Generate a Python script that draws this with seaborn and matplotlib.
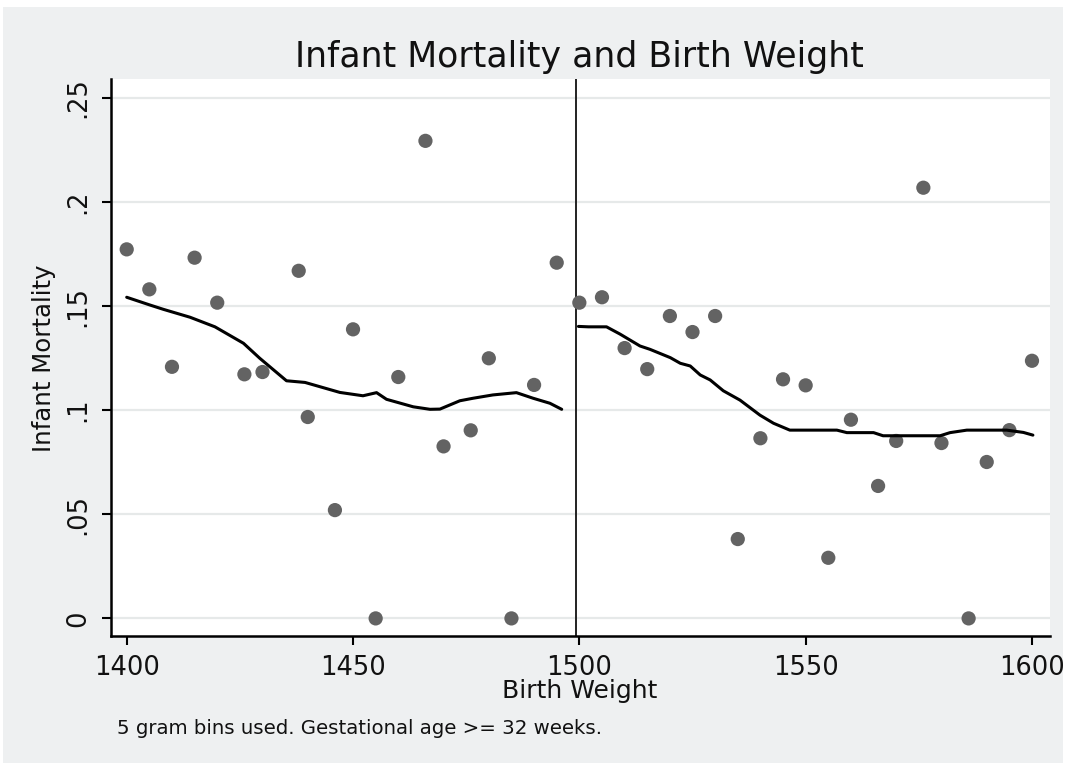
import matplotlib
matplotlib.use("Agg")
import matplotlib.pyplot as plt
import seaborn as sns
import pandas as pd
from matplotlib.patches import Rectangle

# ---- data ----
left_bw = [1400, 1405, 1410, 1415, 1420, 1426, 1430, 1438, 1440, 1446,
           1450, 1455, 1460, 1466, 1470, 1476, 1480, 1485, 1490, 1495]
left_mort = [0.1772, 0.1580, 0.1208, 0.1732, 0.1516, 0.1172, 0.1183, 0.1669, 0.0967, 0.0520,
             0.1388, 0.0, 0.1159, 0.2293, 0.0826, 0.0903, 0.1249, 0.0, 0.1121, 0.1708]

right_bw = [1500, 1505, 1510, 1515, 1520, 1525, 1530, 1535, 1540, 1545,
            1550, 1555, 1560, 1566, 1570, 1576, 1580, 1586, 1590, 1595, 1600]
right_mort = [0.1516, 0.1542, 0.1298, 0.1197, 0.1452, 0.1375, 0.1452, 0.0381, 0.0865, 0.1148,
              0.1119, 0.0291, 0.0954, 0.0636, 0.0852, 0.2068, 0.0842, 0.0, 0.0751, 0.0904, 0.1237]

left_fit_bw = [1400, 1405.1, 1408.1, 1414.0, 1419.5, 1425.8, 1429.4, 1435.3, 1439.4, 1447.1,
               1452.2, 1455.2, 1457.4, 1463.3, 1467.0, 1469.2, 1473.6, 1476.5, 1480.9, 1486.1,
               1489.8, 1493.5, 1496.1]
left_fit = [0.1542, 0.1505, 0.1484, 0.1446, 0.1400, 0.1321, 0.1249, 0.1141, 0.1133, 0.1085,
            0.1069, 0.1084, 0.1052, 0.1016, 0.1004, 0.1005, 0.1045, 0.1057, 0.1073, 0.1084,
            0.1057, 0.1033, 0.1004]

right_fit_bw = [1499.8, 1502.0, 1506.0, 1509.0, 1513.4, 1515.6, 1520.1, 1522.3, 1524.5, 1526.7,
                1528.9, 1531.8, 1535.5, 1539.9, 1542.9, 1546.5, 1556.9, 1559.1, 1565.0, 1567.1,
                1579.7, 1581.9, 1585.6, 1594.4, 1598.1, 1600.2]
right_fit = [0.1402, 0.1400, 0.1400, 0.1365, 0.1308, 0.1292, 0.1252, 0.1225, 0.1212, 0.1169,
             0.1145, 0.1093, 0.1048, 0.0976, 0.0937, 0.0904, 0.0904, 0.0892, 0.0892, 0.0877,
             0.0877, 0.0892, 0.0904, 0.0904, 0.0893, 0.0880]

cutoff = 1499.2
x_ticks = [1400, 1450, 1500, 1550, 1600]
x_ticklabels = ["1400", "1450", "1500", "1550", "1600"]
y_ticks = [0, 0.05, 0.1, 0.15, 0.2, 0.25]
y_ticklabels = ["0", ".05", ".1", ".15", ".2", ".25"]

title = "Infant Mortality and Birth Weight"
xlabel = "Birth Weight"
ylabel = "Infant Mortality"
note = "5 gram bins used. Gestational age >= 32 weeks."

# ---- style ----
sns.set_style("white")
plt.rcParams["font.family"] = ["DejaVu Sans"]
TXT = "#111111"

pts = pd.DataFrame({"bw": left_bw + right_bw, "mort": left_mort + right_mort})
fitL = pd.DataFrame({"bw": left_fit_bw, "mort": left_fit})
fitR = pd.DataFrame({"bw": right_fit_bw, "mort": right_fit})

fig = plt.figure(figsize=(10.66, 7.65), dpi=100, facecolor="white")
bg = Rectangle((3 / 1066, 1 - 763 / 765), 1060 / 1066, 756 / 765,
               transform=fig.transFigure, facecolor="#eef0f1",
               edgecolor="none", zorder=-10)
fig.patches.append(bg)
ax = fig.add_axes([111 / 1066, 1 - 636 / 765, 939 / 1066, 557 / 765])
ax.set_zorder(1)
ax.set_facecolor("white")

ax.set_xlim(1396.53, 1603.98)
ax.set_ylim(-0.00845, 0.259)

for yv in y_ticks:
    ax.axhline(yv, color="#e6e9e9", lw=1.6, zorder=1)

sns.scatterplot(data=pts, x="bw", y="mort", ax=ax, color="#636363", s=105,
                edgecolor="none", zorder=3, legend=False)
sns.lineplot(data=fitL, x="bw", y="mort", ax=ax, color="black", lw=2.2,
             zorder=4, estimator=None, sort=False)
sns.lineplot(data=fitR, x="bw", y="mort", ax=ax, color="black", lw=2.2,
             zorder=4, estimator=None, sort=False)
ax.axvline(cutoff, color="#222222", lw=1.4, zorder=2)

ax.set_xticks(x_ticks)
ax.set_xticklabels(x_ticklabels)
ax.set_yticks(y_ticks)
ax.set_yticklabels(y_ticklabels, rotation=90, va="center")
ax.tick_params(axis="both", direction="out", length=6.5, width=1.5, color="black",
               labelsize=18.5, labelcolor=TXT, left=True, bottom=True)
ax.tick_params(axis="x", pad=7)
ax.tick_params(axis="y", pad=8)
for s in ["top", "right"]:
    ax.spines[s].set_visible(False)
for s in ["left", "bottom"]:
    ax.spines[s].set_color("black")
    ax.spines[s].set_linewidth(1.8)

ax.set_xlabel("")
ax.set_ylabel("")
fig.text(44 / 1066, 1 - 358 / 765, ylabel, rotation=90, ha="center", va="center",
         fontsize=17.6, color=TXT)
fig.text(580 / 1066, 1 - 691 / 765, xlabel, ha="center", va="center", fontsize=18, color=TXT)
fig.text(117 / 1066, 1 - 728 / 765, note, ha="left", va="center", fontsize=14.2, color=TXT)
fig.text(579 / 1066, 1 - 57 / 765, title, ha="center", va="center", fontsize=25, color=TXT)

fig.savefig("out.png", dpi=100, facecolor="white")
